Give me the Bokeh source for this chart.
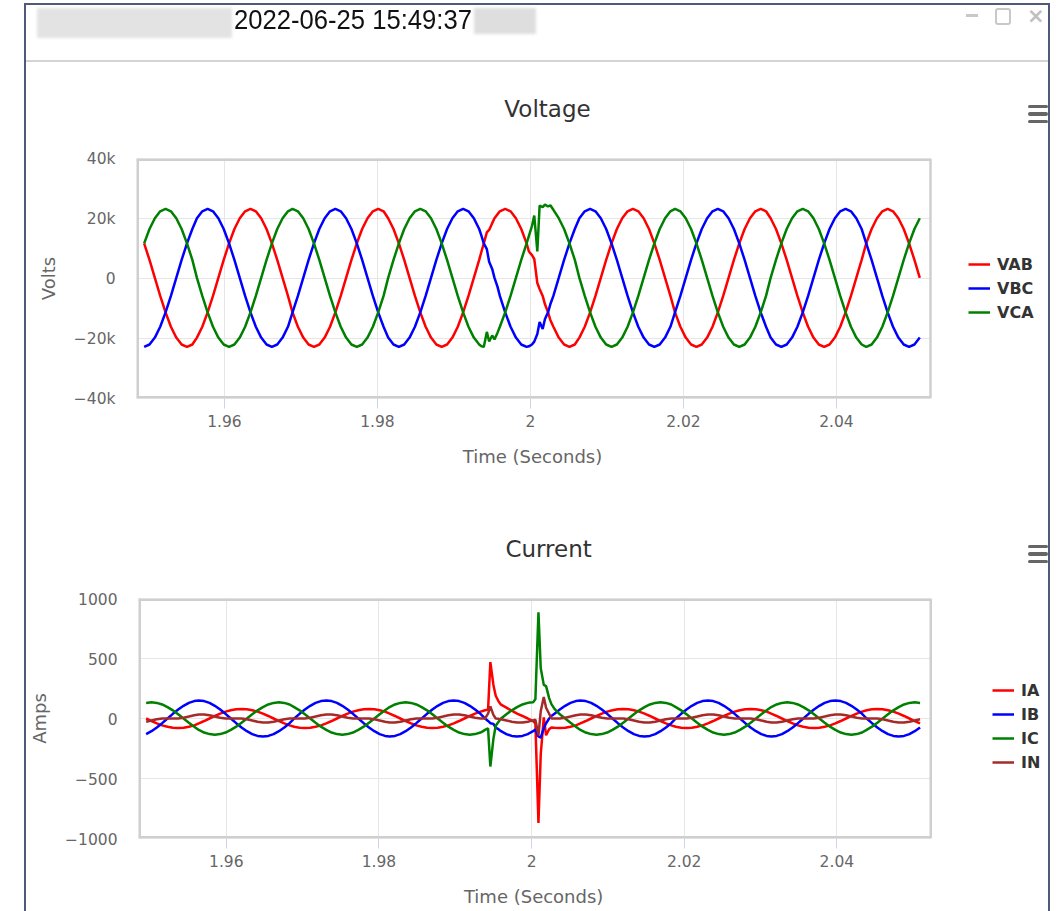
from bokeh.plotting import figure
from bokeh.models import Range1d, FixedTicker, Legend, LegendItem, Div, Label
from bokeh.layouts import column, row
from bokeh.embed import file_html
from bokeh.resources import INLINE

# ---------------- data ----------------
time_s = [
    1.9495, 1.9502, 1.9509, 1.9516, 1.9523, 1.9530, 1.9537, 1.9544, 1.9551, 1.9558, 1.9564, 1.9571,
    1.9578, 1.9585, 1.9592, 1.9599, 1.9606, 1.9613, 1.9620, 1.9627, 1.9634, 1.9641, 1.9648, 1.9655,
    1.9662, 1.9669, 1.9676, 1.9683, 1.9689, 1.9696, 1.9703, 1.9710, 1.9717, 1.9724, 1.9731, 1.9738,
    1.9745, 1.9752, 1.9759, 1.9766, 1.9773, 1.9780, 1.9787, 1.9794, 1.9801, 1.9808, 1.9814, 1.9821,
    1.9828, 1.9835, 1.9842, 1.9849, 1.9856, 1.9863, 1.9870, 1.9877, 1.9884, 1.9891, 1.9898, 1.9905,
    1.9912, 1.9919, 1.9926, 1.9933, 1.9939, 1.9946, 1.9953, 1.9960, 1.9967, 1.9974, 1.9981, 1.9988,
    1.9995, 2.0002, 2.0009, 2.0016, 2.0023, 2.0030, 2.0037, 2.0044, 2.0051, 2.0058, 2.0064, 2.0071,
    2.0078, 2.0085, 2.0092, 2.0099, 2.0106, 2.0113, 2.0120, 2.0127, 2.0134, 2.0141, 2.0148, 2.0155,
    2.0162, 2.0169, 2.0176, 2.0183, 2.0189, 2.0196, 2.0203, 2.0210, 2.0217, 2.0224, 2.0231, 2.0238,
    2.0245, 2.0252, 2.0259, 2.0266, 2.0273, 2.0280, 2.0287, 2.0294, 2.0301, 2.0308, 2.0314, 2.0321,
    2.0328, 2.0335, 2.0342, 2.0349, 2.0356, 2.0363, 2.0370, 2.0377, 2.0384, 2.0391, 2.0398, 2.0405,
    2.0412, 2.0419, 2.0426, 2.0433, 2.0439, 2.0446, 2.0453, 2.0460, 2.0467, 2.0474, 2.0481, 2.0488,
    2.0495, 2.0502, 2.0509,
]
# extra samples recorded around the two disturbances
fault_time_s = [1.9936, 1.9943, 1.9950, 1.9957, 1.9998, 2.0005, 2.0012, 2.0019, 2.0026]

vab = [
    11700, 6200, 200, -5800, -11300, -16100, -19700, -22000, -22800, -22000, -19700, -16100,
    -11300, -5800, 200, 6200, 11700, 16500, 20100, 22400, 23200, 22400, 20100, 16500,
    11700, 6200, 200, -5800, -11300, -16100, -19700, -22000, -22800, -22000, -19700, -16100,
    -11300, -5800, 200, 6200, 11700, 16500, 20100, 22400, 23200, 22400, 20100, 16500,
    11700, 6200, 200, -5800, -11300, -16100, -19700, -22000, -22800, -22000, -19700, -16100,
    -11300, -5800, 200, 6200, 11700, 16200, 20100, 22400, 23200, 22400, 20100, 16500,
    11700, 7800, -1500, -5800, -11300, -16100, -19700, -22000, -22800, -22000, -19700, -16100,
    -11300, -5800, 200, 6200, 11700, 16500, 20100, 22400, 23200, 22400, 20100, 16500,
    11700, 6200, 200, -5800, -11300, -16100, -19700, -22000, -22800, -22000, -19700, -16100,
    -11300, -5800, 200, 6200, 11700, 16500, 20100, 22400, 23200, 22400, 20100, 16500,
    11700, 6200, 200, -5800, -11300, -16100, -19700, -22000, -22800, -22000, -19700, -16100,
    -11300, -5800, 200, 6200, 11700, 16500, 20100, 22400, 23200, 22400, 20100, 16500,
    11700, 6200, 200,
]
vab_fault = [9000, 15400, 18450, 21450, 9000, 6500, -3500, -8600, -13800]

vbc = [
    -22800, -22000, -19700, -16100, -11300, -5800, 200, 6200, 11700, 16500, 20100, 22400,
    23200, 22400, 20100, 16500, 11700, 6200, 200, -5800, -11300, -16100, -19700, -22000,
    -22800, -22000, -19700, -16100, -11300, -5800, 200, 6200, 11700, 16500, 20100, 22400,
    23200, 22400, 20100, 16500, 11700, 6200, 200, -5800, -11300, -16100, -19700, -22000,
    -22800, -22000, -19700, -16100, -11300, -5800, 200, 6200, 11700, 16500, 20100, 22400,
    23200, 22400, 20100, 16500, 11700, 5600, 200, -5800, -11300, -16100, -19700, -22000,
    -22800, -22000, -18500, -16800, -11300, -5800, 200, 6200, 11700, 16500, 20100, 22400,
    23200, 22400, 20100, 16500, 11700, 6200, 200, -5800, -11300, -16100, -19700, -22000,
    -22800, -22000, -19700, -16100, -11300, -5800, 200, 6200, 11700, 16500, 20100, 22400,
    23200, 22400, 20100, 16500, 11700, 6200, 200, -5800, -11300, -16100, -19700, -22000,
    -22800, -22000, -19700, -16100, -11300, -5800, 200, 6200, 11700, 16500, 20100, 22400,
    23200, 22400, 20100, 16500, 11700, 6200, 200, -5800, -11300, -16100, -19700, -22000,
    -22800, -22000, -19700,
]
vbc_fault = [14200, 9800, 3200, -2800, -22600, -21050, -14500, -13500, -8600]

vca = [
    11700, 16500, 20100, 22400, 23200, 22400, 20100, 16500, 11700, 6200, 200, -5800,
    -11300, -16100, -19700, -22000, -22800, -22000, -19700, -16100, -11300, -5800, 200, 6200,
    11700, 16500, 20100, 22400, 23200, 22400, 20100, 16500, 11700, 6200, 200, -5800,
    -11300, -16100, -19700, -22000, -22800, -22000, -19700, -16100, -11300, -5800, 200, 6200,
    11700, 16500, 20100, 22400, 23200, 22400, 20100, 16500, 11700, 6200, 200, -5800,
    -11300, -16100, -19700, -22000, -22800, -21000, -20300, -16100, -11300, -5800, 200, 6200,
    11700, 17500, 9000, 23800, 24000, 22900, 20100, 16500, 11700, 6200, 200, -5800,
    -11300, -16100, -19700, -22000, -22800, -22000, -19700, -16100, -11300, -5800, 200, 6200,
    11700, 16500, 20100, 22400, 23200, 22400, 20100, 16500, 11700, 6200, 200, -5800,
    -11300, -16100, -19700, -22000, -22800, -22000, -19700, -16100, -11300, -5800, 200, 6200,
    11700, 16500, 20100, 22400, 23200, 22400, 20100, 16500, 11700, 6200, 200, -5800,
    -11300, -16100, -19700, -22000, -22800, -22000, -19700, -16100, -11300, -5800, 200, 6200,
    11700, 16500, 20100,
]
vca_fault = [-22600, -17800, -19000, -18050, 14200, 21000, 24300, 24600, 24400]

ia = [
    0, -21, -40, -57, -69, -77, -80, -77, -69, -57, -40, -21,
    0, 21, 40, 57, 69, 77, 80, 77, 69, 57, 40, 21,
    0, -21, -40, -57, -69, -77, -80, -77, -69, -57, -40, -21,
    0, 21, 40, 57, 69, 77, 80, 77, 69, 57, 40, 21,
    0, -21, -40, -57, -69, -77, -80, -77, -69, -57, -40, -21,
    0, 21, 40, 57, 69, 470, 190, 115, 90, 65, 40, 21,
    0, -21, -870, 10, -90, -77, -80, -77, -69, -57, -40, -21,
    0, 21, 40, 57, 69, 77, 80, 77, 69, 57, 40, 21,
    0, -21, -40, -57, -69, -77, -80, -77, -69, -57, -40, -21,
    0, 21, 40, 57, 69, 77, 80, 77, 69, 57, 40, 21,
    0, -21, -40, -57, -69, -77, -80, -77, -69, -57, -40, -21,
    0, 21, 40, 57, 69, 77, 80, 77, 69, 57, 40, 21,
    0, -21, -40,
]
ia_fault = [63, 74, 280, 140, -10, -40, -300, -140, -75]

ib = [
    -130, -106, -75, -39, 0, 39, 75, 106, 130, 145, 150, 145,
    130, 106, 75, 39, 0, -39, -75, -106, -130, -145, -150, -145,
    -130, -106, -75, -39, 0, 39, 75, 106, 130, 145, 150, 145,
    130, 106, 75, 39, 0, -39, -75, -106, -130, -145, -150, -145,
    -130, -106, -75, -39, 0, 39, 75, 106, 130, 145, 150, 145,
    130, 106, 75, 39, 0, -39, -75, -106, -130, -145, -150, -145,
    -130, -106, -150, -80, 0, 39, 75, 106, 130, 145, 150, 145,
    130, 106, 75, 39, 0, -39, -75, -106, -130, -145, -150, -145,
    -130, -106, -75, -39, 0, 39, 75, 106, 130, 145, 150, 145,
    130, 106, 75, 39, 0, -39, -75, -106, -130, -145, -150, -145,
    -130, -106, -75, -39, 0, 39, 75, 106, 130, 145, 150, 145,
    130, 106, 75, 39, 0, -39, -75, -106, -130, -145, -150, -145,
    -130, -106, -75,
]
ib_fault = [20, -20, -45, -91, -119, -91, -160, -40, 20]

ic = [
    130, 135, 130, 117, 95, 68, 35, 0, -35, -68, -95, -117,
    -130, -135, -130, -117, -95, -68, -35, 0, 35, 68, 95, 117,
    130, 135, 130, 117, 95, 68, 35, 0, -35, -68, -95, -117,
    -130, -135, -130, -117, -95, -68, -35, 0, 35, 68, 95, 117,
    130, 135, 130, 117, 95, 68, 35, 0, -35, -68, -95, -117,
    -130, -135, -130, -117, -95, -400, -60, 0, 35, 68, 95, 117,
    130, 135, 885, 280, 170, 80, 35, 0, -35, -68, -95, -117,
    -130, -135, -130, -117, -95, -68, -35, 0, 35, 68, 95, 117,
    130, 135, 130, 117, 95, 68, 35, 0, -35, -68, -95, -117,
    -130, -135, -130, -117, -95, -68, -35, 0, 35, 68, 95, 117,
    130, 135, 130, 117, 95, 68, 35, 0, -35, -68, -95, -117,
    -130, -135, -130, -117, -95, -68, -35, 0, 35, 68, 95, 117,
    130, 135, 130,
]
ic_fault = [-107, -82, -170, -25, 134, 160, 420, 270, 120]

i_n = [
    -27, -16, -6, 0, 1, 0, 0, 6, 16, 27, 34, 34, 27, 16, 6, 0, 0, 1, 0, -6, -16, -27, -34, -34,
    -27, -16, -6, 0, 1, 0, 0, 6, 16, 27, 34, 34, 27, 16, 6, 0, 0, 1, 0, -6, -16, -27, -34, -34,
    -27, -16, -6, 0, 1, 0, 0, 6, 16, 27, 34, 34, 27, 16, 6, 0, 0, 100, 0, -6, -16, -27, -34, -34,
    -27, -16, -140, 180, 40, 0, 0, 6, 16, 27, 34, 34, 27, 16, 6, 0, 0, 1, 0, -6, -16, -27, -34, -34,
    -27, -16, -6, 0, 1, 0, 0, 6, 16, 27, 34, 34, 27, 16, 6, 0, 0, 1, 0, -6, -16, -27, -34, -34,
    -27, -16, -6, 0, 1, 0, 0, 6, 16, 27, 34, 34, 27, 16, 6, 0, 0, 1, 0, -6, -16, -27, -34, -34,
    -27, -16, -6,
]
in_fault = [0, 40, 30, -3, -22, -11, 60, 90, 0]

x_ticks = [1.96, 1.98, 2.0, 2.02, 2.04]
x_tick_labels = ["1.96", "1.98", "2", "2.02", "2.04"]
v_ticks = [-40000, -20000, 0, 20000, 40000]
v_tick_labels = ["\u221240k", "\u221220k", "0", "20k", "40k"]
i_ticks = [-1000, -500, 0, 500, 1000]
i_tick_labels = ["\u22121000", "\u2212500", "0", "500", "1000"]

colors = {"VAB": "#ff0000", "VBC": "#0000ff", "VCA": "#008000",
          "IA": "#ff0000", "IB": "#0000ff", "IC": "#008000", "IN": "#a52a2a"}

# ---------------- layout constants (page pixels) ----------------
WIN = "#4e5a78"
FONT = "DejaVu Sans"
FIG_X, FIG_W = 26, 1022          # chart figures span page x 26 .. 1048
FL, PR = 136, 930                # plot area left / right edge
X0, X1 = 1.9485, 2.0523          # time shown between FL and PR
XE = X0 + (FIG_X + FIG_W - FL) / (PR - FL) * (X1 - X0)   # frame reaches the window edge
BORDER = "#cfcfcf"


def merged(base, extra):
    pairs = sorted(zip(time_s + fault_time_s, base + extra))
    return [a for a, _ in pairs], [b for _, b in pairs]


def xd(px):
    return X0 + (px - FL) / (PR - FL) * (X1 - X0)


def chart(top, height, ylo, yhi, yticks, ylabels, ylabel, title, series, leg_loc):
    ftop = top + 96

    def yd(py):
        return yhi - (py - ftop) / 240.0 * (yhi - ylo)

    p = figure(width=FIG_W, height=height, x_range=Range1d(X0, XE), y_range=Range1d(ylo, yhi),
               toolbar_location=None, output_backend="svg", title_location=None,
               min_border_left=FL - FIG_X, min_border_right=0,
               min_border_top=96, min_border_bottom=height - 336)
    p.background_fill_color = "white"
    p.border_fill_color = "white"
    p.outline_line_color = None

    xa = p.xaxis[0]
    xa.ticker = FixedTicker(ticks=x_ticks)
    xa.major_label_overrides = dict(zip(x_ticks, x_tick_labels))
    xa.axis_line_color = None
    xa.major_tick_line_color = "#ccd6eb"
    xa.major_tick_out = 10
    xa.major_tick_in = 0
    xa.minor_tick_line_color = None
    xa.major_label_standoff = 6
    xa.major_label_text_font = FONT
    xa.major_label_text_font_size = "15.5px"
    xa.major_label_text_color = "#666666"

    ya = p.yaxis[0]
    ya.ticker = FixedTicker(ticks=yticks)
    ya.major_label_overrides = dict(zip(yticks, ylabels))
    ya.axis_line_color = None
    ya.major_tick_line_color = None
    ya.major_tick_out = 0
    ya.major_tick_in = 0
    ya.minor_tick_line_color = None
    ya.major_label_standoff = 21
    ya.major_label_text_font = FONT
    ya.major_label_text_font_size = "15.5px"
    ya.major_label_text_color = "#666666"
    ya.axis_label = ylabel
    ya.axis_label_text_font = FONT
    ya.axis_label_text_font_size = "18px"
    ya.axis_label_text_font_style = "normal"
    ya.axis_label_text_color = "#666666"
    ya.axis_label_standoff = 12

    p.xgrid.grid_line_color = "#e6e6e6"
    p.ygrid.visible = False
    # horizontal grid lines limited to the plot area
    p.segment(x0=[X0] * len(yticks), y0=yticks, x1=[X1] * len(yticks), y1=yticks,
              line_color="#e6e6e6", line_width=1, level="underlay")

    items = []
    for name, base, extra in series:
        t, v = merged(base, extra)
        r = p.line(t, v, line_color=colors[name], line_width=2.5)
        items.append(LegendItem(label=name, renderers=[r]))

    # plot-area border (left/top/bottom sit on the frame edge, so half is clipped)
    p.segment(x0=[X0, X0, X0], y0=[ylo, yhi, ylo], x1=[X0, X1, X1], y1=[yhi, yhi, ylo],
              line_color=BORDER, line_width=5)
    p.segment(x0=[X1], y0=[ylo], x1=[X1], y1=[yhi], line_color=BORDER, line_width=2.5)

    leg = Legend(items=items, location=leg_loc, orientation="vertical", padding=0, margin=0,
                 spacing=4, glyph_width=22, glyph_height=20, label_height=20, label_standoff=7,
                 border_line_color=None, background_fill_alpha=0,
                 label_text_font=FONT, label_text_font_style="bold",
                 label_text_font_size="16px", label_text_color="#333333")
    p.add_layout(leg)

    p.add_layout(Label(x=xd(547), y=yd(top + 46), text=title, text_align="center",
                       text_baseline="middle", text_font=FONT, text_font_size="23px",
                       text_color="#333333"), "above")
    p.add_layout(Label(x=xd(532), y=yd(top + 394), text="Time (Seconds)", text_align="center",
                       text_baseline="middle", text_font=FONT, text_font_size="18px",
                       text_color="#666666"), "below")
    return p


def left_strip(height):
    html = ('<div style="position:relative;width:26px;height:%dpx;">'
            '<div style="position:absolute;left:24px;top:0;width:2px;height:%dpx;'
            'background:%s;"></div></div>' % (height, height, WIN))
    return Div(text=html, width=26, height=height, margin=0)


def right_strip(height):
    bars = "".join(
        '<div style="position:absolute;left:-20px;top:%spx;width:20px;height:3.5px;'
        'border-radius:2px;background:#666666;"></div>' % t for t in (42.5, 50, 57.5))
    html = ('<div style="position:relative;width:8px;height:%dpx;overflow:visible;">'
            '<div style="position:absolute;left:0;top:0;width:2px;height:%dpx;background:%s;"></div>'
            '%s</div>' % (height, height, WIN, bars))
    return Div(text=html, width=8, height=height, margin=0,
               styles={"overflow": "visible", "z-index": "5"})


header_html = """
<div style="position:relative;width:1056px;height:62px;background:#fff;overflow:hidden;">
  <div style="position:absolute;left:24px;top:3px;width:1025px;height:2px;background:%(win)s;"></div>
  <div style="position:absolute;left:24px;top:3px;width:2px;height:59px;background:%(win)s;"></div>
  <div style="position:absolute;left:1048px;top:3px;width:2px;height:59px;background:%(win)s;"></div>
  <div style="position:absolute;left:37px;top:8px;width:195px;height:30px;background:#e3e3e3;filter:blur(1.5px);"></div>
  <div style="position:absolute;left:474px;top:8px;width:62px;height:26px;background:#dedede;filter:blur(1.5px);"></div>
  <div style="position:absolute;left:234px;top:6px;font-family:'Liberation Sans';font-size:28px;line-height:28px;color:#111;white-space:nowrap;transform:scaleX(0.915);transform-origin:0 0;">2022-06-25 15:49:37</div>
  <div style="position:absolute;left:966px;top:14px;width:12px;height:3px;background:#c8c8c8;"></div>
  <div style="position:absolute;left:995px;top:8px;width:16px;height:17px;border:2px solid #c8c8c8;border-radius:3px;"></div>
  <div style="position:absolute;left:1027px;top:4px;font-family:'DejaVu Sans';font-weight:bold;font-size:21px;line-height:24px;color:#c0c0c0;">\u00d7</div>
  <div style="position:absolute;left:26px;top:60px;width:1022px;height:2px;background:#d4d4d4;"></div>
</div>
""" % {"win": WIN}
header = Div(text=header_html, width=1056, height=62, margin=0)

pv = chart(62, 440, -40000, 40000, v_ticks, v_tick_labels, "Volts", "Voltage",
           [("VAB", vab, vab_fault), ("VBC", vbc, vbc_fault), ("VCA", vca, vca_fault)],
           (832, 76))
pc = chart(502, 409, -1000, 1000, i_ticks, i_tick_labels, "Amps", "Current",
           [("IA", ia, ia_fault), ("IB", ib, ib_fault), ("IC", ic, ic_fault), ("IN", i_n, in_fault)],
           (854, 66))

layout = column(
    header,
    row(left_strip(440), pv, right_strip(440), spacing=0),
    row(left_strip(409), pc, right_strip(409), spacing=0),
    spacing=0,
)
open("out.html", "w").write(file_html(layout, INLINE))
